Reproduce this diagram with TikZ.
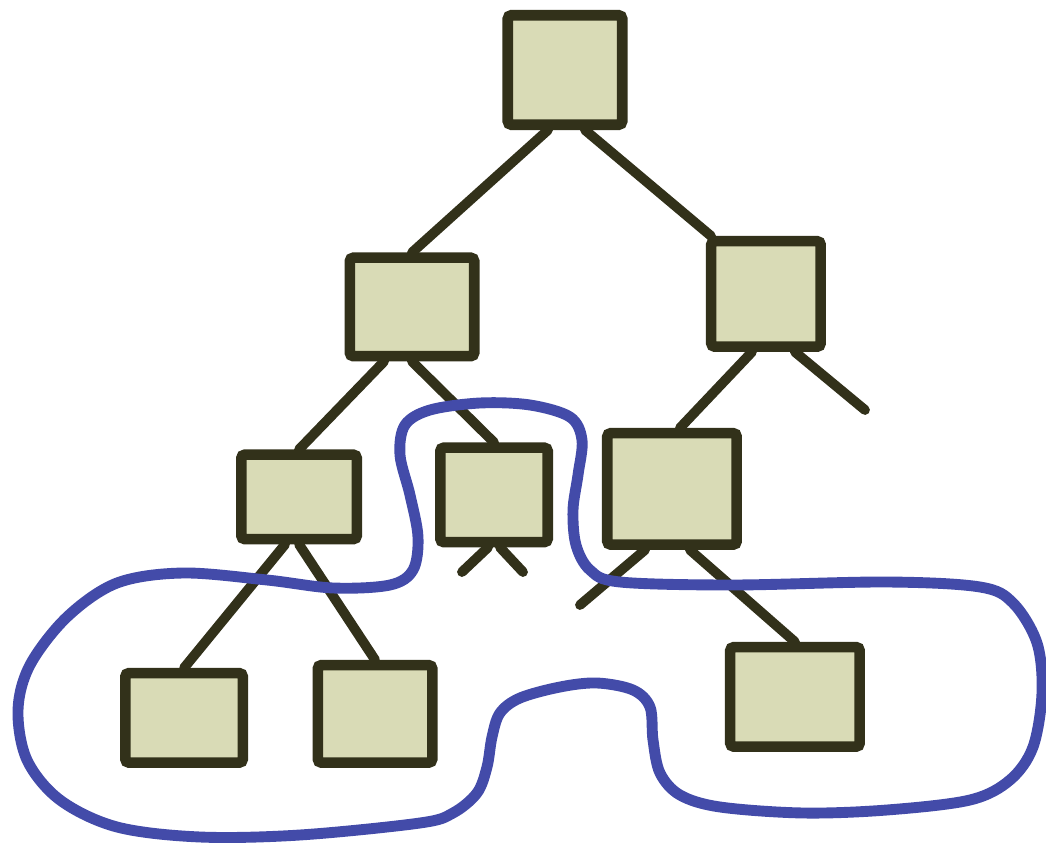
\documentclass[tikz,border=0pt]{standalone}
\usepackage{xcolor}
\usepackage{tikz}
\usetikzlibrary{positioning}

\definecolor{ink}{HTML}{32311A}
\definecolor{paper}{HTML}{D9DBB6}
\definecolor{loopblue}{HTML}{434BA9}

\begin{document}
\begin{tikzpicture}[x=0.02cm,y=-0.02cm,on grid,
    box/.style={draw=ink,fill=paper,line width=6pt,rectangle,rounded corners=2pt,inner sep=0pt},
    branch/.style={draw=ink,line width=5.6pt,line cap=round},
    subset/.style={draw=loopblue,line width=6.2pt}]
  \useasboundingbox (0,0) rectangle (1046,848);
  \node[box,minimum width=2.29cm,minimum height=2.19cm] (root) at (565,70) {};
  \node[box,minimum width=2.49cm,minimum height=1.97cm] (l) [below left=4.74cm and 3.06cm of root] {};
  \node[box,minimum width=2.19cm,minimum height=2.11cm] (r) [below right=4.48cm and 4.02cm of root] {};
  \node[box,minimum width=2.31cm,minimum height=1.69cm] (ll) [below left=3.80cm and 2.26cm of l] {};
  \node[box,minimum width=2.15cm,minimum height=1.89cm] (lr) [below right=3.76cm and 1.64cm of l] {};
  \node[box,minimum width=2.59cm,minimum height=2.23cm] (rl) [below left=3.90cm and 1.88cm of r] {};
  \node[box,minimum width=2.35cm,minimum height=1.79cm] (lll) [below left=4.42cm and 2.30cm of ll] {};
  \node[box,minimum width=2.29cm,minimum height=1.95cm] (llr) [below right=4.34cm and 1.52cm of ll] {};
  \node[box,minimum width=2.59cm,minimum height=1.99cm] (rlr) [below right=4.16cm and 2.46cm of rl] {};
  % loose ends
  \coordinate (rstub) at (865,410);
  \coordinate (lrstubl) at (462,572);
  \coordinate (lrstubr) at (523,572);
  \coordinate (rlstub) at (580,605);
  \draw[branch] ([xshift=-0.34cm]root.south) -- (l.north);
  \draw[branch] ([xshift=0.4cm]root.south) -- ([xshift=0.1cm]r.north west);
  \draw[branch] ([xshift=-0.56cm]l.south) -- (ll.north);
  \draw[branch] (l.south) -- (lr.north);
  \draw[branch] ([xshift=-0.28cm]r.south) -- ([xshift=0.16cm]rl.north);
  \draw[branch] ([xshift=0.58cm]r.south) -- (rstub);
  \draw[branch] ([xshift=-0.28cm]ll.south) -- (lll.north);
  \draw[branch] (ll.south) -- (llr.north);
  \draw[branch] ([xshift=-0.12cm]lr.south) -- (lrstubl);
  \draw[branch] ([xshift=0.12cm]lr.south) -- (lrstubr);
  \draw[branch] ([xshift=-0.54cm]rl.south) -- (rlstub);
  \draw[branch] ([xshift=0.36cm]rl.south) -- (rlr.north);
  % the blue loop
  \draw[subset] plot[smooth cycle,tension=0.55] coordinates {
    (18,710) (30,665) (67,617) (117,583) (183,573) (267,580) (333,588)
    (390,585) (413,570) (418,537) (410,495) (400,455) (405,425) (430,410)
    (480,403) (530,405) (570,417) (582,440) (578,475) (573,510) (576,545)
    (590,570) (620,582) (733,585) (887,582) (980,587) (1013,603) (1037,643)
    (1042,693) (1033,747) (1010,780) (970,800) (887,810) (803,813) (720,807)
    (680,795) (660,773) (653,740) (650,707) (633,690) (597,683) (560,687)
    (520,698) (500,713) (492,737) (487,767) (477,793) (453,813) (420,823)
    (300,835) (200,837) (117,827) (60,800) (27,760)};
\end{tikzpicture}
\end{document}
